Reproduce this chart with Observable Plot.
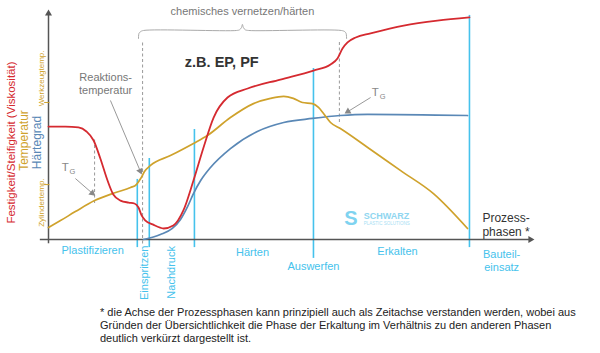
<!DOCTYPE html>
<html>
<head>
<meta charset="utf-8">
<script src="https://cdn.jsdelivr.net/npm/d3@7"></script>
<script src="https://cdn.jsdelivr.net/npm/@observablehq/plot@0.6"></script>
<style>
  html, body { margin: 0; padding: 0; background: #fff; }
  body { width: 600px; height: 353px; overflow: hidden; font-family: "Liberation Sans", Arial, Helvetica, sans-serif; }
  #note { margin: 6px 0 0 100px; font-size: 11px; line-height: 13px; color: #222; white-space: nowrap; }
</style>
</head>
<body>
<div id="chart"></div>
<div id="note">* die Achse der Prozessphasen kann prinzipiell auch als Zeitachse verstanden werden, wobei aus<br>Gründen der Übersichtlichkeit die Phase der Erkaltung im Verhältnis zu den anderen Phasen<br>deutlich verkürzt dargestellt ist.</div>
<script>
// ---- data (process phase axis 0..100, normalized value 0..100) ----
const festigkeit = [[0,50.2],[3.5,50.2],[6.25,49.8],[7.9,48],[9.4,44],[10.8,36],[12.3,26.2],[13.5,20],[15,17.3],[16.7,16.4],[17.9,16],[18.75,14.2],[19.4,10.7],[20.2,8.4],[21.7,6.7],[24,4.9],[26,6.2],[28.1,12.9],[30.2,26.2],[32.3,40.9],[34.4,54.2],[37.3,63.1],[41.5,67.1],[48.3,71.1],[55.2,75.1],[58.75,77.8],[60.2,80.4],[61.25,84.9],[62.3,87.6],[64,89.8],[67.1,91.6],[74,95.1],[81,97.3],[87.7,98.7]];
const temperatur = [[0,5.3],[2.5,8.4],[5.6,12.4],[9.6,17.3],[14,20.9],[17.1,23.1],[18.3,24.4],[19.2,27.1],[20,30.2],[21.25,32.9],[25.4,37.3],[30.2,42.7],[33.1,46.2],[37.9,54.2],[42.7,60.4],[46.25,62.7],[49,63.6],[51,62.7],[52.9,60.9],[55,60.4],[56.25,58.7],[57.3,56],[58.75,52],[60.8,49.3],[66.5,40.9],[73.3,30.7],[80.2,20.4],[87.3,4.9]];
const haertegrad = [[19.8,0],[23.3,2.2],[25.8,4.9],[27.5,8.9],[29,14.7],[30.2,20.4],[31.7,26.2],[33.75,32],[37.9,40.4],[43.5,48],[49,52],[55,53.8],[60.8,55.1],[66.5,55.6],[87.3,55.1]];

const phaseLineX = [18.5, 21, 30.4, 55.2, 87.7];
const phaseLineTop = [26.7, 36, 48.9, 76, 99.6];
const phaseLineBottom = [-3.6, -3.6, -3.6, -8.4, -3.6];

const phaseNames = ["Plastifizieren", "Einspritzen", "Nachdruck", "Härten", "Auswerfen", "Erkalten", "Bauteil-\neinsatz"];
const phaseNameX = [9.2, 19.8, 25.4, 42.5, 55.2, 72.7, 94.4];
const phaseNameY = [-4.4, -14.8, -14.6, -5.3, -11.6, -4.9, -9.1];
const phaseNameRotate = [0, -90, -90, 0, 0, 0, 0];

const dashedX = [9.6, 19.6, 60.6];
const dashedFrom = [16, -2, 52];
const dashedTo = [45.3, 87.6, 87.6];

const brace = [[18.75,89.3],[18.85,91.6],[19.2,92.4],[19.8,92.9],[39.2,92.9],[39.8,93.2],[40.2,94.2],[40.4,95.6],[40.6,94.2],[41.0,93.2],[41.7,92.9],[61.0,92.9],[61.7,92.4],[62.0,91.6],[62.1,89.3]];

// annotation arrows: [x1,y1,x2,y2]
const pointers = [[12.9,61.8,19.1,30.5],[5.6,27.1,9.1,20.6],[67.1,63.1,62.4,56.9]];

const yTickValues = [60.9, 24.4];
const yTickLabels = ["Werkzeugtemp.", "Zylindertemp."];
const yTickLabelY = [71.6, 16.4];

// ---- layout ----
const W = 600, H = 300, mL = 48, mR = 72, mT = 14, mB = 61;
const pxX = (W - mL - mR) / 100, pxY = (H - mT - mB) / 100;
const angle = ([x1, y1, x2, y2]) => Math.atan2((x2 - x1) * pxX, (y2 - y1) * pxY) * 180 / Math.PI;

const red = "#d52a30", gold = "#cfa22c", blue = "#5a88b6", cyan = "#45c2ec", grey = "#8a8a8a", axis = "#555";
const toObj = a => a.map(([x, y]) => ({x, y}));

const plot = Plot.plot({
  width: W, height: H,
  marginLeft: mL, marginRight: mR, marginTop: mT, marginBottom: mB,
  x: {domain: [0, 100], axis: null},
  y: {domain: [0, 100], axis: null},
  style: {fontFamily: "'Liberation Sans', Arial, Helvetica, sans-serif", background: "white", overflow: "visible"},
  marks: [
    // phase separators
    Plot.ruleX(phaseLineX.map((x, i) => ({x, y1: phaseLineBottom[i], y2: phaseLineTop[i]})), {x: "x", y1: "y1", y2: "y2", stroke: cyan, strokeWidth: 1.6}),
    // dashed guides
    Plot.ruleX(dashedX.map((x, i) => ({x, y1: dashedFrom[i], y2: dashedTo[i]})), {x: "x", y1: "y1", y2: "y2", stroke: "#999", strokeWidth: 1, strokeDasharray: "3,2.5"}),
    // brace
    Plot.line(toObj(brace), {x: "x", y: "y", stroke: "#aaa", strokeWidth: 1, curve: "catmull-rom"}),
    // axes
    Plot.ruleY([0], {x1: -1.7, x2: 100.2, stroke: axis, strokeWidth: 1.5}),
    Plot.ruleX([0], {y1: -1.9, y2: 100, stroke: axis, strokeWidth: 1.5}),
    Plot.dot([{x: 100.4, y: 0, r: 90}, {x: 0, y: 100.4, r: 0}], {x: "x", y: "y", symbol: "triangle", r: 2.6, rotate: "r", fill: axis, stroke: "none"}),
    // y ticks
    Plot.ruleY(yTickValues, {x1: -0.8, x2: 0.3, stroke: gold, strokeWidth: 1}),
    Plot.text(yTickLabels, {x: -1.45, y: (d, i) => yTickLabelY[i], text: d => d, rotate: -90, fill: gold, fontSize: 8}),
    // curves
    Plot.line(toObj(haertegrad), {x: "x", y: "y", stroke: blue, strokeWidth: 1.7, curve: "monotone-x"}),
    Plot.line(toObj(temperatur), {x: "x", y: "y", stroke: gold, strokeWidth: 1.7, curve: "monotone-x"}),
    Plot.line(toObj(festigkeit), {x: "x", y: "y", stroke: red, strokeWidth: 1.8, curve: "monotone-x"}),
    // pointers
    Plot.link(pointers, {x1: d => d[0], y1: d => d[1], x2: d => d[2], y2: d => d[3], stroke: "#999", strokeWidth: 1}),
    Plot.dot(pointers, {x: d => d[2], y: d => d[3], symbol: "triangle", r: 2.6, rotate: d => angle(d), fill: "#888", stroke: "none"}),
    // annotation texts
    Plot.text(["chemisches vernetzen/härten"], {x: 40.4, y: 101.3, text: d => d, fill: "#777", fontSize: 11}),
    Plot.text(["z.B. EP, PF"], {x: 36.1, y: 78.7, text: d => d, fill: "#333", fontSize: 14.5, fontWeight: "bold"}),
    Plot.text(["Reaktions-\ntemperatur"], {x: 11.9, y: 69.6, text: d => d, fill: "#777", fontSize: 11, lineHeight: 1.18}),
    Plot.text(["T", "T"], {x: [3.5, 68.1], y: [32, 65.3], text: d => d, fill: "#888", fontSize: 11.5}),
    Plot.text(["G", "G"], {x: [5.0, 69.6], y: [30.2, 63.6], text: d => d, fill: "#888", fontSize: 7.5}),
    Plot.text(["Prozess-\nphasen *"], {x: 90.4, y: 6.7, text: d => d, fill: "#333", fontSize: 12, textAnchor: "start", lineHeight: 1.17}),
    // y axis titles
    Plot.text(["Festigkeit/Steifigkeit (Viskosität)"], {x: -7.7, y: 43.1, text: d => d, rotate: -90, fill: red, fontSize: 11.5}),
    Plot.text(["Temperatur"], {x: -5.0, y: 44, text: d => d, rotate: -90, fill: gold, fontSize: 12}),
    Plot.text(["Härtegrad"], {x: -2.4, y: 43.1, text: d => d, rotate: -90, fill: blue, fontSize: 12}),
    // phase names
    Plot.text(phaseNames, {x: (d, i) => phaseNameX[i], y: (d, i) => phaseNameY[i], rotate: (d, i) => phaseNameRotate[i], text: d => d, fill: cyan, fontSize: 11, lineHeight: 1.18}),
    // logo
    Plot.text(["S"], {x: 63.0, y: 9.3, text: d => d, fill: "#7fd3f0", fontSize: 20, fontWeight: "bold"}),
    Plot.text(["SCHWARZ"], {x: 65.7, y: 10.5, text: d => d, fill: "#8fd6f0", fontSize: 9, fontWeight: "bold", textAnchor: "start"}),
    Plot.text(["PLASTIC SOLUTIONS"], {x: 65.7, y: 7.0, text: d => d, fill: "#a8e0f4", fontSize: 4.5, textAnchor: "start"})
  ]
});
document.getElementById("chart").appendChild(plot);
</script>
</body>
</html>
